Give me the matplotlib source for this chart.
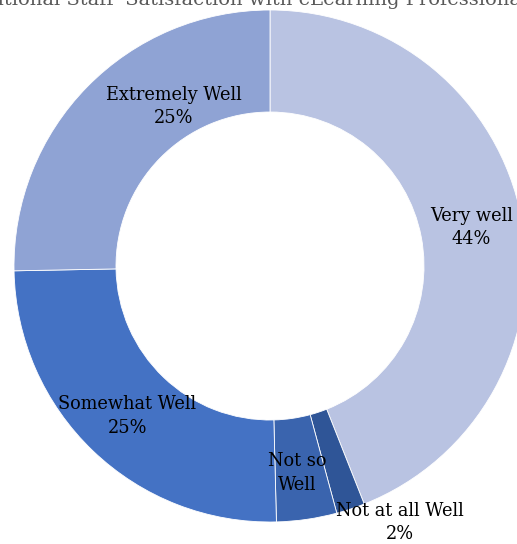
import numpy as np
import matplotlib
matplotlib.use('Agg')
import matplotlib.pyplot as plt

labels = ['Very well', 'Not at all Well', 'Not so Well', 'Somewhat Well', 'Extremely Well']
values = [44.0, 1.8, 3.8, 25.1, 25.3]
colors = ['#B9C3E2', '#2F5597', '#3A64AE', '#4472C4', '#8FA3D4']
title = "Educational Staff' Satisfaction with eLearning Professional Development"

W, H = 517, 544
fig = plt.figure(figsize=(W / 100, H / 100), dpi=100)
ax = fig.add_axes([0, 0, 1, 1])

cx, cy = 270, H - 266
R = 256
ring = 102

ax.pie(values, radius=R, center=(cx, cy), startangle=90, counterclock=False,
       colors=colors, wedgeprops=dict(width=ring, edgecolor='white', linewidth=0.6))

# label text, "Not so Well" shows no percent in the original
shown = []
for lab, v in zip(labels, values):
    if lab == 'Not so Well':
        shown.append('Not so\nWell')
    else:
        shown.append('%s\n%d%%' % (lab, round(v)))

# labels at the middle of the ring, two of them moved by hand like in the original
offsets = {'Extremely Well': (50, 16), 'Not at all Well': (65, -62),
           'Somewhat Well': (-1, -2), 'Not so Well': (-2, -4)}
frac = np.cumsum(values) - np.array(values) / 2
for lab, txt, f in zip(labels, shown, frac):
    ang = np.deg2rad(90 - 360 * f / sum(values))
    r = R - ring / 2
    x = cx + r * np.cos(ang)
    y = cy + r * np.sin(ang)
    dx, dy = offsets.get(lab, (0, 0))
    ax.text(x + dx, y + dy, txt, ha='center', va='center', family='DejaVu Serif',
            fontsize=12.8, color='black', linespacing=1.4)

ax.text(-58, H - 5, title, ha='left', va='baseline', family='DejaVu Serif',
        fontsize=14, color='#595959')

ax.set_xlim(0, W)
ax.set_ylim(0, H)
ax.set_aspect('equal')
ax.axis('off')
fig.savefig('out.png', dpi=100)
